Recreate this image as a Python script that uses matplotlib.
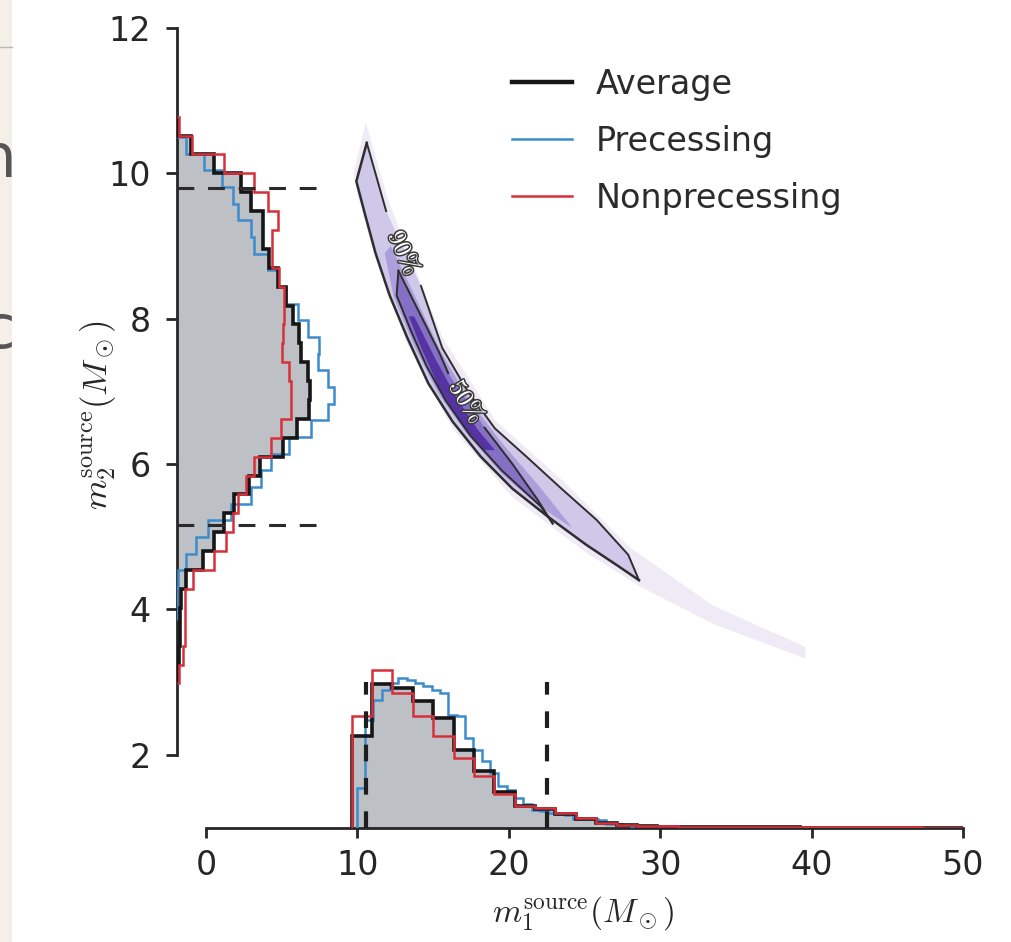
import matplotlib
matplotlib.use("Agg")
import matplotlib.pyplot as plt
import matplotlib.patheffects as pe
import numpy as np
from matplotlib.lines import Line2D
from matplotlib.patches import Polygon, Rectangle

plt.rcParams["mathtext.fontset"] = "cm"

# --- m2 marginal: bar lengths (in m1 axis units, from the left spine), bottom -> top
m2_lo_hi_avg = (2.98, 10.78)
m2_avg = [0.0, 0.15, 0.2, 0.2, 0.25, 0.6, 1.7, 2.45, 3.1, 3.75, 4.75, 5.5, 7.0, 7.95, 8.7,
          8.8, 8.65, 8.2, 8.05, 7.65, 7.2, 6.65, 6.1, 5.65, 5.65, 4.9, 4.25, 2.45, 0.92, 0.03]
m2_nonprec = [0.1, 0.4, 0.55, 0.55, 0.55, 1.05, 2.45, 3.25, 3.7, 4.0, 4.55, 5.1, 6.2, 6.85, 7.55,
              7.55, 7.4, 6.95, 7.0, 7.05, 7.05, 6.75, 6.3, 6.3, 6.65, 6.0, 5.1, 3.1, 1.0, 0.1]
m2_lo_hi_prec = (3.85, 10.73)
m2_prec = [0.03, 0.03, 0.05, 0.6, 1.25, 2.05, 3.55, 4.9, 5.55, 6.2, 7.4, 8.85, 9.95, 10.4, 9.95,
           9.3, 9.4, 8.65, 8.0, 7.2, 6.65, 6.0, 5.1, 4.9, 4.0, 3.7, 3.0, 1.8, 0.6, 0.05]

# --- m1 marginal: bar heights (in m2 axis units, from the bottom spine), left -> right
m1_lo_hi_avg = (9.62, 50.0)
m1_avg = [1.27, 1.98, 1.93, 1.75, 1.52, 1.08, 0.78, 0.49, 0.30, 0.26, 0.19, 0.12, 0.07, 0.04, 0.025,
          0.02, 0.015, 0.012, 0.01, 0.01, 0.008, 0.008, 0.006, 0.005, 0.005, 0.004, 0.004, 0.003, 0.003, 0.002]
m1_nonprec = [1.54, 2.18, 1.86, 1.54, 1.27, 0.96, 0.71, 0.47, 0.30, 0.28, 0.21, 0.14, 0.07, 0.04, 0.03,
              0.025, 0.02, 0.02, 0.018, 0.015, 0.015, 0.012, 0.012, 0.01, 0.01, 0.01, 0.008, 0.008, 0.006, 0.006]
m1_lo_hi_prec = (9.95, 28.65)
m1_prec = [0.55, 1.49, 1.76, 1.90, 2.00, 2.07, 2.04, 2.00, 1.95, 1.90, 1.86, 1.56, 1.54, 1.24, 1.07,
           0.92, 0.76, 0.58, 0.52, 0.41, 0.33, 0.25, 0.23, 0.21, 0.19, 0.18, 0.12, 0.12, 0.12, 0.11,
           0.055, 0.055, 0.04, 0.015]

# 90% credible bounds
m2_bounds = [5.16, 9.80]
m1_bounds = [10.6, 22.5]

# --- 2D credible region outlines (m1, m2)
c90_lower = [(10.62, 10.42), (9.93, 9.89), (10.51, 9.43), (11.20, 8.90), (12.13, 8.32), (13.29, 7.74),
             (14.68, 7.11), (16.30, 6.58), (18.15, 6.10), (20.24, 5.66), (22.55, 5.28), (25.10, 4.89),
             (27.19, 4.60), (28.6, 4.40)]
c90_upper_a = [(10.62, 10.42), (11.90, 9.48)]
c90_upper_b = [(14.2, 8.45), (15.60, 7.60), (17.23, 7.02), (19.08, 6.49), (21.17, 6.10), (23.48, 5.66),
               (25.80, 5.23), (27.89, 4.75), (28.6, 4.40)]
c50_upper_a = [(12.71, 8.66), (13.98, 8.13), (15.37, 7.55), (16.0, 7.25)]
c50_upper_b = [(18.4, 6.50), (20.24, 6.0), (21.86, 5.52), (22.90, 5.18)]
c50_lower = [(22.90, 5.18), (22.09, 5.42), (19.54, 5.91), (17.46, 6.39), (15.84, 6.87), (14.56, 7.35),
             (13.52, 7.84), (12.59, 8.32), (12.71, 8.66)]
mid = [(12.2, 9.0), (13.6, 8.4), (15.5, 7.55), (17.3, 6.9), (19.5, 6.3), (21.9, 5.72), (24.2, 5.12),
       (22.0, 5.42), (19.6, 5.85), (17.2, 6.42), (15.4, 6.95), (13.8, 7.6), (12.4, 8.3), (11.8, 8.9)]
core = [(13.75, 8.03), (15.14, 7.45), (16.53, 6.92), (17.92, 6.48), (19.08, 6.19), (18.38, 6.19),
        (16.76, 6.58), (15.37, 7.06), (14.21, 7.60), (13.40, 8.03)]
halo = [(10.55, 10.7), (12.0, 9.65), (13.3, 8.95), (15.6, 7.75), (19.1, 6.6), (23.5, 5.78), (28.0, 4.85),
        (33.5, 4.05), (39.6, 3.48), (39.6, 3.32), (33.5, 3.8), (28.8, 4.3), (25.1, 4.78), (20.2, 5.55),
        (16.3, 6.48), (13.3, 7.64), (11.2, 8.82), (10.0, 9.7), (9.75, 10.0)]
label90 = (13.06, 8.90, -66)
label50 = (17.2, 6.85, -58)

series = ["Average", "Precessing", "Nonprecessing"]
BLACK, BLUE, RED, GRAY = "#161616", "#3d8bcc", "#d6303a", "#bdc1c5"
INK = "#262626"

W, H = 1012, 942
fig = plt.figure(figsize=(W / 100, H / 100), dpi=100)
fig.patch.set_facecolor("white")

# slide background strip at the far left
strip = Rectangle((0, 0), 12 / W, 1, transform=fig.transFigure, facecolor="#f4f0e8", edgecolor="none")
fig.patches.append(strip)
fig.add_artist(Line2D([0, 12 / W], [1 - 47 / H] * 2, transform=fig.transFigure, color="#b8b8b8", lw=1))
for ch, px, py in [("n", 16, 177), ("c", 15, 348)]:
    t = fig.text(px / W, 1 - py / H, ch, fontsize=44, ha="right", va="baseline", color="#555555")
    t.set_clip_path(strip)

ax = fig.add_axes([177 / W, 1 - 828 / H, (963 - 177) / W, 800 / H])
x0, y0 = -1.915, 0.99
ax.set_xlim(x0, 50)
ax.set_ylim(y0, 12)

# 2D posterior shading and contours
ax.add_patch(Polygon(halo, closed=True, facecolor="#eeebf7", edgecolor="none", zorder=1))
region90 = c90_lower + c90_upper_b[::-1] + c90_upper_a[::-1]
ax.add_patch(Polygon(region90, closed=True, facecolor="#cfc8e9", edgecolor="none", zorder=1.1))
ax.add_patch(Polygon(mid, closed=True, facecolor="#ab9ed9", edgecolor="none", zorder=1.15))
region50 = c50_upper_a + c50_upper_b + c50_lower[1:]
ax.add_patch(Polygon(region50, closed=True, facecolor="#8670c6", edgecolor="none", zorder=1.2))
ax.add_patch(Polygon(core, closed=True, facecolor="#5533a3", edgecolor="none", zorder=1.3))
for line, lw in [(c90_lower, 1.8), (c90_upper_a, 1.4), (c90_upper_b, 1.4), (c50_upper_a, 1.4),
                 (c50_upper_b, 1.4), (c50_lower, 1.4)]:
    xs, ys = zip(*line)
    ax.plot(xs, ys, color="#2e2e2e", lw=lw, zorder=2, solid_joinstyle="miter")
for (lx, ly, rot), txt in [(label90, r"$90\%$"), (label50, r"$50\%$")]:
    ax.text(lx, ly, txt, rotation=rot, fontsize=18, color="white", ha="center", va="center", zorder=3,
            path_effects=[pe.withStroke(linewidth=2.2, foreground="#3a3a3a")])

# m2 marginal (horizontal)
e_avg = np.linspace(*m2_lo_hi_avg, len(m2_avg) + 1)
e_prec = np.linspace(*m2_lo_hi_prec, len(m2_prec) + 1)
ax.stairs(x0 + np.array(m2_avg), e_avg, baseline=x0, orientation="horizontal", fill=True,
          color=GRAY, zorder=2)
ax.stairs(x0 + np.array(m2_prec), e_prec, baseline=x0, orientation="horizontal", color=BLUE, lw=1.8, zorder=3)
ax.stairs(x0 + np.array(m2_avg), e_avg, baseline=x0, orientation="horizontal", color=BLACK, lw=2.6, zorder=4)
ax.stairs(x0 + np.array(m2_nonprec), e_avg, baseline=x0, orientation="horizontal", color=RED, lw=1.8, zorder=5)

# m1 marginal (vertical)
f_avg = np.linspace(*m1_lo_hi_avg, len(m1_avg) + 1)
f_prec = np.linspace(*m1_lo_hi_prec, len(m1_prec) + 1)
ax.stairs(y0 + np.array(m1_avg), f_avg, baseline=y0, fill=True, color=GRAY, zorder=2)
ax.stairs(y0 + np.array(m1_prec), f_prec, baseline=y0, color=BLUE, lw=1.8, zorder=3)
ax.stairs(y0 + np.array(m1_avg), f_avg, baseline=y0, color=BLACK, lw=2.6, zorder=4)
ax.stairs(y0 + np.array(m1_nonprec), f_avg, baseline=y0, color=RED, lw=1.8, zorder=5)

# credible interval markers
for yb in m2_bounds:
    ax.plot([x0, 7.64], [yb, yb], color="#2a2a2a", lw=2.2, dashes=(5.5, 4.5), zorder=6)
for xb in m1_bounds:
    ax.plot([xb, xb], [y0, 3.0], color="#1e1e1e", lw=3.0, dashes=(4, 4), zorder=6)

# axes styling
for side in ["top", "right"]:
    ax.spines[side].set_visible(False)
for side in ["left", "bottom"]:
    ax.spines[side].set_linewidth(2.0)
    ax.spines[side].set_color(INK)
ax.spines["left"].set_bounds(2, 12)
ax.spines["bottom"].set_bounds(0, 50)
ax.set_xticks([0, 10, 20, 30, 40, 50])
ax.set_yticks([2, 4, 6, 8, 10, 12])
ax.tick_params(axis="x", direction="out", length=7, width=2, color=INK, labelcolor=INK, labelsize=24, pad=8)
ax.tick_params(axis="y", direction="out", length=8, width=2, color=INK, labelcolor=INK, labelsize=24, pad=11)
ax.set_xlabel(r"$m_1^{\rm source}(M_\odot)$", fontsize=24, color=INK)
ax.set_ylabel(r"$m_2^{\rm source}(M_\odot)$", fontsize=25, color=INK)
ax.xaxis.set_label_coords(0.5165, -0.084)
ax.yaxis.set_label_coords(-0.075, 0.516)

handles = [Line2D([], [], color=BLACK, lw=3.2), Line2D([], [], color=BLUE, lw=1.8),
           Line2D([], [], color=RED, lw=1.8)]
leg = ax.legend(handles, series, loc="upper left", bbox_to_anchor=(512 / W, 1 - 68 / H),
                bbox_transform=fig.transFigure, frameon=False, fontsize=24, handlelength=1.8,
                handletextpad=0.7, labelspacing=0.72, borderaxespad=0, borderpad=0)
for t in leg.get_texts():
    t.set_color("#2b2b2b")

fig.savefig("out.png", dpi=100)
